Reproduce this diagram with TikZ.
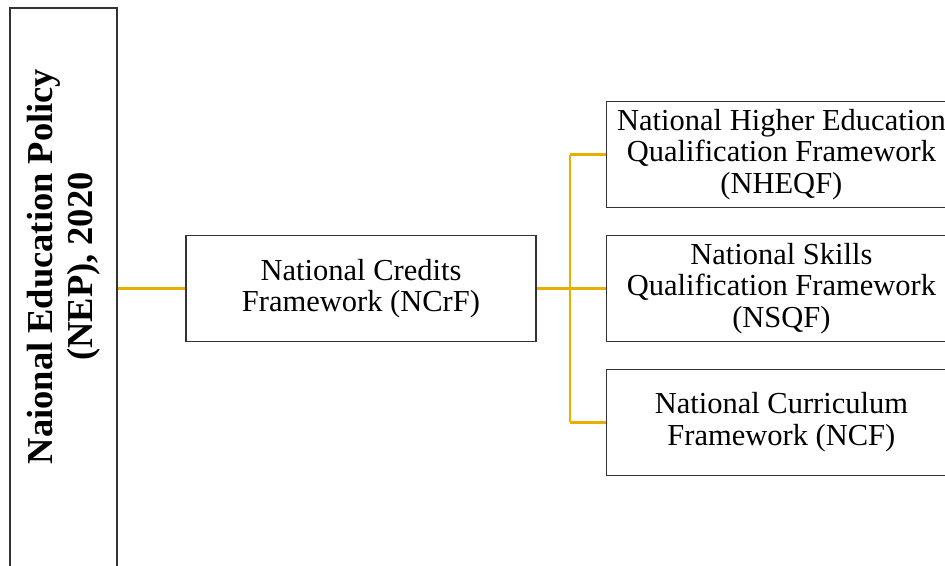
\documentclass[tikz,border=0pt]{standalone}
\usepackage{fontspec}
\setmainfont{Liberation Serif}
\usepackage{tikz}
\usetikzlibrary{positioning}

\definecolor{linkgold}{HTML}{E8AE00}
\definecolor{boxgray}{HTML}{333333}

\begin{document}
\begin{tikzpicture}[x=1pt, y=-1pt,
    block/.style={draw=boxgray, line width=1.4pt, minimum width=350pt, minimum height=106pt, align=center, inner sep=0pt, font=\fontsize{30.5}{31.5}\selectfont},
    policy/.style={draw=boxgray, line width=1.4pt, minimum width=107pt, minimum height=620pt, inner sep=0pt},
    link/.style={draw=linkgold, line width=2.4pt}
]
\useasboundingbox (0,0) rectangle (945,565);
\clip (0,0) rectangle (945,565);

\node[policy] (nep) at (63.5,318) {};
\node[rotate=90, align=center, font=\bfseries\fontsize{36.5}{40}\selectfont] (neptext) at (63.5,266.5) {Naional Education Policy\\(NEP), 2020};

\node[block] (ncrf) at (361,288.5) {National Credits\\Framework (NCrF)};
\node[block, right=69pt of ncrf] (nsqf) {National Skills\\Qualification Framework\\(NSQF)};
\node[block, above=26.5pt of nsqf] (nheqf) {National Higher Education\\Qualification Framework\\(NHEQF)};
\node[block, below=26.5pt of nsqf] (ncf) {National Curriculum\\Framework (NCF)};

\coordinate (split) at (570,288.5);

\draw[link] (nep.east |- ncrf.west) -- (ncrf.west);
\draw[link] (ncrf.east) -- (nsqf.west);
\draw[link] (split |- nheqf.west) -- (nheqf.west);
\draw[link] (split |- ncf.west) -- (ncf.west);
\draw[link] (split |- nheqf.west) -- (split |- ncf.west);

\end{tikzpicture}
\end{document}
